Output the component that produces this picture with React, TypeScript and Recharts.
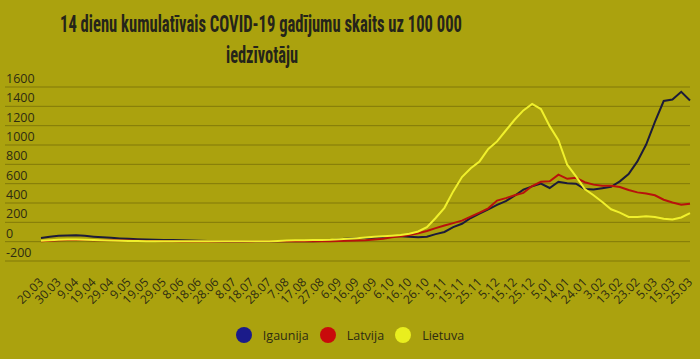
import React from 'react'
import { LineChart, Line, XAxis, YAxis, CartesianGrid } from 'recharts'

// 5-day steps, 20.03.2020 .. 25.03.2021 (every other one is shown on the axis)
const dates = [
  '20.03', '25.03', '30.03', '4.04', '9.04', '14.04', '19.04', '24.04', '29.04', '4.05',
  '9.05', '14.05', '19.05', '24.05', '29.05', '3.06', '8.06', '13.06', '18.06', '23.06',
  '28.06', '3.07', '8.07', '13.07', '18.07', '23.07', '28.07', '2.08', '7.08', '12.08',
  '17.08', '22.08', '27.08', '1.09', '6.09', '11.09', '16.09', '21.09', '26.09', '1.10',
  '6.10', '11.10', '16.10', '21.10', '26.10', '31.10', '5.11', '10.11', '15.11', '20.11',
  '25.11', '30.11', '5.12', '10.12', '15.12', '20.12', '25.12', '30.12', '5.01', '9.01',
  '14.01', '19.01', '24.01', '29.01', '3.02', '8.02', '13.02', '18.02', '23.02', '28.02',
  '5.03', '10.03', '15.03', '20.03', '25.03',
]

const igaunija = [
  38, 50, 60, 65, 66, 60, 52, 45, 40, 34,
  30, 26, 22, 20, 18, 16, 14, 12, 10, 6,
  4, 3, 3, 3, 4, 4, 5, 5, 5, 5,
  5, 5, 8, 15, 25, 32, 36, 38, 40, 48,
  55, 55, 52, 46, 52, 78, 100, 150, 185, 245,
  290, 335, 380, 420, 475, 538, 572, 600, 555, 620,
  605, 600, 545, 540, 553, 568, 624, 700, 830, 1005,
  1240, 1455, 1470, 1550, 1460,
]

const latvija = [
  5, 10, 15, 18, 18, 16, 15, 14, 14, 13,
  12, 10, 8, 6, 5, 4, 3, 3, 2, 2,
  2, 2, 2, 3, 3, 4, 4, 5, 5, 5,
  5, 5, 5, 5, 8, 10, 12, 15, 22, 30,
  45, 55, 70, 88, 110, 140, 168, 192, 218, 260,
  300, 345, 425, 450, 480, 505, 575, 620, 624, 693,
  650, 660, 615, 590, 579, 579, 565, 535, 510, 498,
  480, 434, 405, 383, 393,
]

const lietuva = [
  10, 15, 20, 22, 22, 20, 18, 15, 12, 10,
  8, 6, 5, 5, 5, 4, 4, 4, 4, 4,
  4, 4, 4, 5, 5, 5, 5, 8, 12, 14,
  15, 16, 18, 20, 25, 30, 35, 42, 50, 55,
  62, 69, 82, 105, 150, 245, 350, 520, 669, 760,
  830, 960, 1037, 1150, 1261, 1358, 1425, 1372, 1195, 1050,
  796, 675, 545, 480, 410, 335, 300, 255, 255, 262,
  255, 236, 230, 250, 296,
]

const yTicks = [-200, 0, 200, 400, 600, 800, 1000, 1200, 1400, 1600]

const series = [
  { key: 'igaunija', name: 'Igaunija', line: '#1c1b3a', dot: '#1b1b8a' },
  { key: 'latvija', name: 'Latvija', line: '#b8120c', dot: '#c90b0b' },
  { key: 'lietuva', name: 'Lietuva', line: '#f0f02c', dot: '#e9ee1e' },
]

const data = dates.map((d, i) => ({
  d,
  igaunija: igaunija[i],
  latvija: latvija[i],
  lietuva: lietuva[i],
}))

const BG = '#aba20e'
const GRID = 'rgba(70,62,0,0.4)'
const INK = '#2e2c12'
const FONT = "'Open Sans', 'Noto Sans', sans-serif"
const TITLE_FONT = "'Liberation Sans Narrow', 'Roboto Condensed', Roboto, sans-serif"

function YTick({ x, y, payload }: any) {
  return (
    <g>
      <line x1={5} x2={x + 8} y1={y} y2={y} stroke={GRID} strokeWidth={1} />
      <text x={6} y={y - 4} fontSize={12.5} fill={INK} fontFamily={FONT} textAnchor="start">
        {payload.value}
      </text>
    </g>
  )
}

function XTick({ x, y, payload }: any) {
  return (
    <g transform={`translate(${x + 3},${y + 14})`}>
      <text transform="rotate(-45)" textAnchor="end" fontSize={12} fill={INK} fontFamily={FONT}>
        {payload.value}
      </text>
    </g>
  )
}

export default function App() {
  return (
    <div style={{ position: 'fixed', left: 0, top: 0, width: 700, height: 359, background: BG, overflow: 'hidden' }}>
      <svg width={700} height={80} style={{ position: 'absolute', left: 0, top: 0 }}>
        <text
          x={261}
          y={32}
          textAnchor="middle"
          fontSize={24}
          fontWeight={700}
          fill="#25241a"
          fontFamily={TITLE_FONT}
          textLength={402}
          lengthAdjust="spacingAndGlyphs"
        >
          14 dienu kumulatīvais COVID-19 gadījumu skaits uz 100 000
        </text>
        <text
          x={262}
          y={63}
          textAnchor="middle"
          fontSize={24}
          fontWeight={700}
          fill="#25241a"
          fontFamily={TITLE_FONT}
          textLength={72}
          lengthAdjust="spacingAndGlyphs"
        >
          iedzīvotāju
        </text>
      </svg>

      <div style={{ position: 'absolute', left: 0, top: 0 }}>
        <LineChart width={700} height={359} data={data} margin={{ top: 87, right: 10, left: 0, bottom: 0 }}>
          <CartesianGrid vertical={false} stroke={GRID} />
          <XAxis
            dataKey="d"
            interval={1}
            height={98}
            axisLine={false}
            tickLine={false}
            tick={<XTick />}
          />
          <YAxis
            width={41}
            domain={[-200, 1600]}
            ticks={yTicks}
            interval={0}
            axisLine={false}
            tickLine={false}
            tick={<YTick />}
          />
          {series.map(s => (
            <Line
              key={s.key}
              type="linear"
              dataKey={s.key}
              name={s.name}
              stroke={s.line}
              strokeWidth={2}
              dot={false}
              isAnimationActive={false}
            />
          ))}
        </LineChart>
      </div>

      <div
        style={{
          position: 'absolute', left: 0, top: 326, width: 700, height: 18,
          display: 'flex', justifyContent: 'center', alignItems: 'center', gap: 11,
          fontFamily: FONT, fontSize: 12.5, color: INK,
        }}
      >
        {series.map(s => (
          <div key={s.key} style={{ display: 'flex', alignItems: 'center', gap: 11 }}>
            <div style={{ width: 16, height: 16, borderRadius: 8, background: s.dot }} />
            <span>{s.name}</span>
          </div>
        ))}
      </div>
    </div>
  )
}
